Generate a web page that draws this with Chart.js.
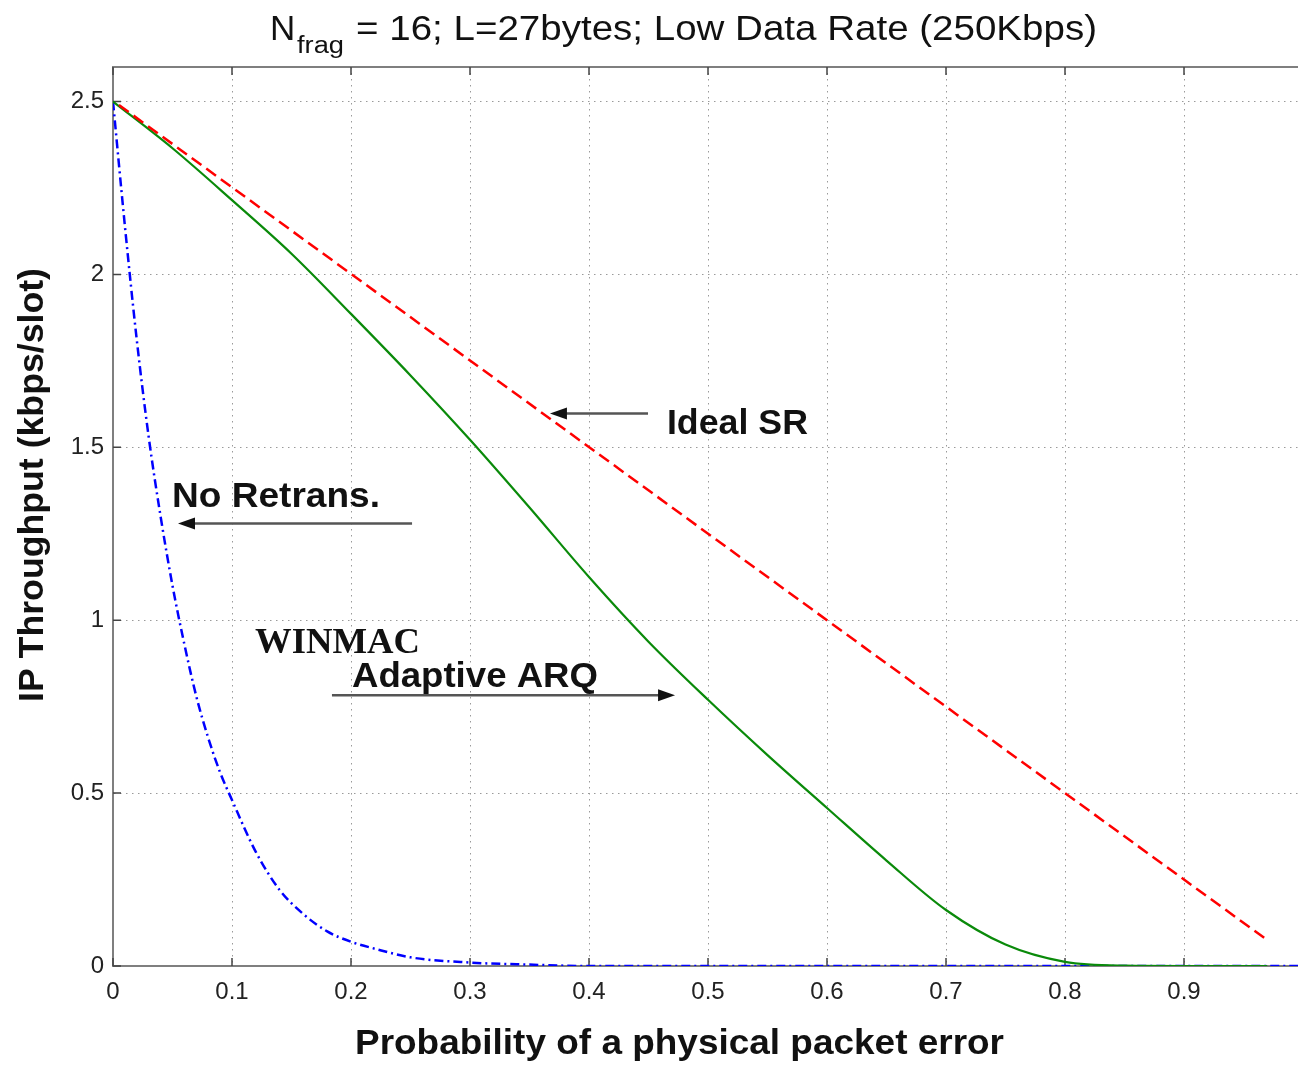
<!DOCTYPE html>
<html>
<head>
<meta charset="utf-8">
<title>IP Throughput vs packet error</title>
<script src="https://cdn.jsdelivr.net/npm/chart.js@4.4.1/dist/chart.umd.min.js"></script>
<style>
  html, body { margin: 0; padding: 0; background: #fff; overflow: hidden; }
  #wrap { position: relative; width: 1310px; height: 1065px; }
</style>
</head>
<body>
<div id="wrap"><canvas id="throughputChart"></canvas></div>
<script>
// tick values
const xTicks = [0, 0.1, 0.2, 0.3, 0.4, 0.5, 0.6, 0.7, 0.8, 0.9];
const yTicks = [0, 0.5, 1, 1.5, 2, 2.5];

// Ideal SR (red dashed)
const idealP = [0.005, 0.6, 0.97];
const idealT = [2.49, 1.0, 0.075];

// WINMAC adaptive ARQ (green)
const arqP = [0, 0.05, 0.10, 0.15, 0.20, 0.25, 0.30, 0.35, 0.40, 0.45, 0.50,
              0.55, 0.60, 0.65, 0.70, 0.75, 0.80, 0.85, 0.90, 0.97];
const arqT = [2.50, 2.365, 2.215, 2.060, 1.886, 1.708, 1.522, 1.326, 1.125, 0.938, 0.770,
              0.610, 0.457, 0.305, 0.162, 0.062, 0.012, 0.001, 0, 0];

// No retransmission (blue dash-dot)
const noRetP = [0, 0.01, 0.02, 0.03, 0.04, 0.05, 0.06, 0.07, 0.08, 0.09, 0.10, 0.12, 0.14,
                0.16, 0.18, 0.20, 0.22, 0.25, 0.30, 0.35, 0.40, 1.0];
const noRetT = [2.50, 2.14, 1.81, 1.53, 1.30, 1.10, 0.93, 0.78, 0.66, 0.56, 0.48, 0.33, 0.22,
                0.15, 0.10, 0.07, 0.05, 0.025, 0.01, 0.004, 0, 0];

const SANS = '"Liberation Sans", Arial, Helvetica, sans-serif';
const SERIF = '"Liberation Serif", "Times New Roman", serif';

// annotation text + arrows, anchored in data units
const notes = [
    { text: 'Ideal SR', p: 0.4655, v: 1.540, w: 141, font: 'bold 35px ' + SANS },
    { text: 'No Retrans.', p: 0.0496, v: 1.327, w: 208, font: 'bold 35px ' + SANS },
    { text: 'WINMAC', p: 0.1193, v: 0.905, w: 165, font: 'bold 36px ' + SERIF },
    { text: 'Adaptive ARQ', p: 0.2008, v: 0.806, w: 246, font: 'bold 35px ' + SANS }
];
const arrows = [
    { from: [0.4496, 1.598], to: [0.3672, 1.598] },
    { from: [0.2513, 1.280], to: [0.0546, 1.280] },
    { from: [0.1840, 0.783], to: [0.4723, 0.783] }
];

function toPoints(xs, ys) {
    return xs.map((x, i) => ({ x: x, y: ys[i] }));
}

// draw text stretched to a given width
function fitText(ctx, text, x, y, width, font) {
    ctx.save();
    ctx.font = font;
    ctx.textAlign = 'left';
    ctx.textBaseline = 'alphabetic';
    const w = ctx.measureText(text).width;
    ctx.translate(x, y);
    ctx.scale(width / w, 1);
    ctx.fillText(text, 0, 0);
    ctx.restore();
}

const framePlugin = {
    id: 'frame',
    beforeDatasetsDraw(chart) {
        const { ctx, chartArea: a, scales } = chart;
        ctx.save();
        ctx.strokeStyle = '#7f7f7f';
        ctx.lineWidth = 2;
        ctx.beginPath();
        ctx.moveTo(a.left, a.bottom);
        ctx.lineTo(a.left, a.top);
        ctx.lineTo(a.right, a.top);
        ctx.stroke();

        // inward tick marks
        ctx.strokeStyle = '#444';
        ctx.lineWidth = 1.5;
        ctx.beginPath();
        xTicks.forEach(v => {
            const x = scales.x.getPixelForValue(v);
            ctx.moveTo(x, a.bottom); ctx.lineTo(x, a.bottom - 8);
            ctx.moveTo(x, a.top); ctx.lineTo(x, a.top + 8);
        });
        yTicks.forEach(v => {
            const y = scales.y.getPixelForValue(v);
            ctx.moveTo(a.left, y); ctx.lineTo(a.left + 8, y);
        });
        ctx.stroke();
        ctx.restore();
    },
    afterDraw(chart) {
        const { ctx, scales } = chart;
        const sx = scales.x, sy = scales.y;
        ctx.save();
        ctx.fillStyle = '#111';

        // title with subscript
        ctx.font = '35px ' + SANS;
        ctx.fillText('N', 270, 40);
        fitText(ctx, 'frag', 297, 53, 47, '23px ' + SANS);
        fitText(ctx, '= 16; L=27bytes; Low Data Rate (250Kbps)', 356, 40, 741, '35px ' + SANS);

        // axis titles
        fitText(ctx, 'Probability of a physical packet error', 355, 1054, 649, 'bold 35px ' + SANS);
        ctx.save();
        ctx.translate(43, 702);
        ctx.rotate(-Math.PI / 2);
        fitText(ctx, 'IP Throughput (kbps/slot)', 0, 0, 434, 'bold 35px ' + SANS);
        ctx.restore();

        // labels
        notes.forEach(n => {
            fitText(ctx, n.text, sx.getPixelForValue(n.p), sy.getPixelForValue(n.v), n.w, n.font);
        });

        // arrows
        arrows.forEach(ar => {
            const x1 = sx.getPixelForValue(ar.from[0]), y1 = sy.getPixelForValue(ar.from[1]);
            const x2 = sx.getPixelForValue(ar.to[0]), y2 = sy.getPixelForValue(ar.to[1]);
            const ang = Math.atan2(y2 - y1, x2 - x1);
            const len = 17, half = 6;
            ctx.strokeStyle = '#555';
            ctx.lineWidth = 2.5;
            ctx.beginPath();
            ctx.moveTo(x1, y1);
            ctx.lineTo(x2 - Math.cos(ang) * len * 0.8, y2 - Math.sin(ang) * len * 0.8);
            ctx.stroke();
            ctx.fillStyle = '#111';
            ctx.beginPath();
            ctx.moveTo(x2, y2);
            ctx.lineTo(x2 - Math.cos(ang) * len - Math.sin(ang) * half, y2 - Math.sin(ang) * len + Math.cos(ang) * half);
            ctx.lineTo(x2 - Math.cos(ang) * len + Math.sin(ang) * half, y2 - Math.sin(ang) * len - Math.cos(ang) * half);
            ctx.closePath();
            ctx.fill();
        });
        ctx.restore();
    }
};

const canvas = document.getElementById('throughputChart');
const ctx = canvas.getContext('2d');

const gridOpts = { color: '#9a9a9a', lineWidth: 1, drawTicks: false };
const borderOpts = { display: true, color: '#7f7f7f', width: 2, dash: [1.5, 4.5] };
const tickFont = { family: SANS, size: 24 };

new Chart(ctx, {
    type: 'line',
    data: {
        datasets: [
            {
                label: 'Ideal SR',
                data: toPoints(idealP, idealT),
                borderColor: '#ff0000',
                borderWidth: 2.5,
                borderDash: [12, 6],
                pointRadius: 0,
                fill: false
            },
            {
                label: 'WINMAC Adaptive ARQ',
                data: toPoints(arqP, arqT),
                borderColor: '#0a8a0a',
                borderWidth: 2.2,
                pointRadius: 0,
                cubicInterpolationMode: 'monotone',
                fill: false
            },
            {
                label: 'No Retrans.',
                data: toPoints(noRetP, noRetT),
                borderColor: '#0000ff',
                borderWidth: 2.5,
                borderDash: [9, 4, 2, 4],
                pointRadius: 0,
                cubicInterpolationMode: 'monotone',
                fill: false
            }
        ]
    },
    options: {
        responsive: true,
        maintainAspectRatio: false,
        animation: false,
        layout: { padding: { left: 0, right: 7, top: 67, bottom: 0 } },
        plugins: {
            legend: { display: false },
            tooltip: { enabled: false }
        },
        scales: {
            x: {
                type: 'linear',
                min: 0,
                max: 1,
                afterBuildTicks: s => { s.ticks = xTicks.map(v => ({ value: v })); },
                afterFit: s => { s.height = 99; },
                grid: gridOpts,
                border: borderOpts,
                ticks: {
                    padding: 12,
                    font: tickFont,
                    color: '#222',
                    maxRotation: 0,
                    autoSkip: false,
                    callback: v => String(v)
                }
            },
            y: {
                min: 0,
                max: 2.6,
                afterBuildTicks: s => { s.ticks = yTicks.map(v => ({ value: v })); },
                afterFit: s => { s.width = 113; },
                grid: gridOpts,
                border: borderOpts,
                ticks: {
                    padding: 9,
                    font: tickFont,
                    color: '#222',
                    autoSkip: false,
                    callback: v => String(v)
                }
            }
        }
    },
    plugins: [framePlugin]
});
</script>
</body>
</html>
